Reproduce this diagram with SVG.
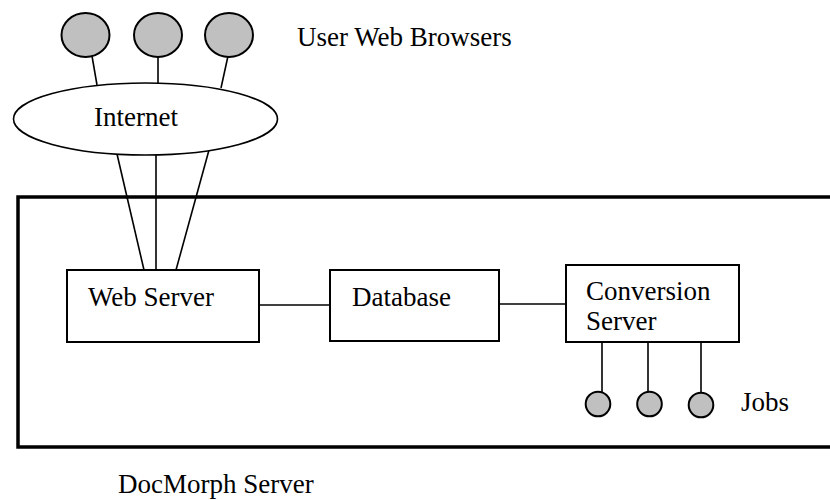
<svg xmlns="http://www.w3.org/2000/svg" width="830" height="500" viewBox="0 0 830 500" font-family="'Liberation Serif','Times New Roman',serif">
<style>
text{font-family:'Liberation Serif','Times New Roman',serif;font-size:27px;fill:#000}
.box{fill:#fff;stroke:#000;stroke-width:2}
.dot{fill:#c0c0c0;stroke:#000;stroke-width:2}
.ln{stroke:#000;stroke-width:1.6;fill:none}
</style>
<rect width="830" height="500" fill="#fff"/>
<g id="docmorph-server">
<rect x="18" y="197" width="830" height="250" fill="none" stroke="#000" stroke-width="3.5"/>
<text x="118" y="493">DocMorph Server</text>
</g>
<g id="connectors">
<line class="ln" x1="92" y1="56" x2="97" y2="85"/>
<line class="ln" x1="158" y1="57" x2="158" y2="83"/>
<line class="ln" x1="228" y1="56" x2="221" y2="88"/>
<line class="ln" x1="117" y1="154" x2="144" y2="270"/>
<line class="ln" x1="156" y1="155" x2="156" y2="270"/>
<line class="ln" x1="209" y1="150" x2="176" y2="270"/>
<line class="ln" x1="259" y1="305" x2="330" y2="305"/>
<line class="ln" x1="499" y1="304" x2="566" y2="304"/>
<line class="ln" x1="602" y1="342" x2="602" y2="392"/>
<line class="ln" x1="648" y1="342" x2="648" y2="392"/>
<line class="ln" x1="701" y1="342" x2="701" y2="393"/>
</g>
<g id="browsers">
<ellipse class="dot" cx="85.5" cy="35" rx="24" ry="22"/>
<ellipse class="dot" cx="158" cy="35" rx="24" ry="22"/>
<ellipse class="dot" cx="229" cy="35" rx="24" ry="22"/>
<text x="297" y="46">User Web Browsers</text>
</g>
<g id="internet">
<ellipse cx="145.5" cy="119" rx="132" ry="36" fill="#fff" stroke="#000" stroke-width="1.6"/>
<text x="94" y="126">Internet</text>
</g>
<g id="web-server">
<rect class="box" x="67" y="270" width="192" height="72"/>
<text x="88" y="306">Web Server</text>
</g>
<g id="database">
<rect class="box" x="330" y="270" width="169" height="71"/>
<text x="352" y="306">Database</text>
</g>
<g id="conversion-server">
<rect class="box" x="566" y="265" width="173" height="77"/>
<text x="586" y="300">Conversion</text>
<text x="586" y="330">Server</text>
</g>
<g id="jobs">
<circle class="dot" cx="598" cy="404" r="12.3"/>
<circle class="dot" cx="649.5" cy="404" r="12.3"/>
<circle class="dot" cx="701" cy="405" r="12.3"/>
<text x="741" y="411">Jobs</text>
</g>
</svg>
